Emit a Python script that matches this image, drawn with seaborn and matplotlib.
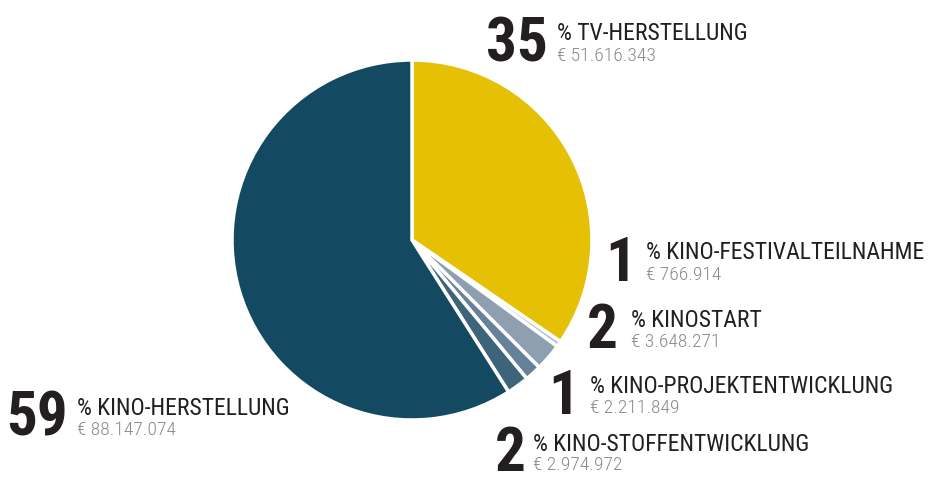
import matplotlib
matplotlib.use("Agg")
import matplotlib.pyplot as plt
import seaborn as sns

categories = ["TV-HERSTELLUNG", "KINO-FESTIVALTEILNAHME", "KINOSTART",
              "KINO-PROJEKTENTWICKLUNG", "KINO-STOFFENTWICKLUNG", "KINO-HERSTELLUNG"]
amounts = [51616343, 766914, 3648271, 2211849, 2974972, 88147074]
percent_labels = ["35", "1", "2", "1", "2", "59"]
amount_labels = ["€ 51.616.343", "€ 766.914", "€ 3.648.271", "€ 2.211.849",
                 "€ 2.974.972", "€ 88.147.074"]
colors = ["#e6c005", "#b9c4cf", "#8d9fb0", "#66819a", "#3e6479", "#134a62"]

sns.set_theme(style="white")
plt.rcParams['font.family'] = ['Roboto Condensed', 'Archivo Narrow', 'Barlow Condensed',
                               'Asap Condensed', 'DejaVu Sans']

W, H = 932, 480
fig = plt.figure(figsize=(W / 100, H / 100), dpi=100)
fig.patch.set_facecolor("white")

cx, cy, r = 412, 240, 180
ax = fig.add_axes([(cx - r) / W, (H - cy - r) / H, 2 * r / W, 2 * r / H])
ax.pie(amounts, colors=colors, startangle=90, counterclock=False,
       wedgeprops=dict(edgecolor="white", linewidth=2.5), radius=1.0)
ax.set_xlim(-1, 1)
ax.set_ylim(-1, 1)
ax.set_aspect("equal")
ax.axis("off")

# label layout: (digit right edge x, digit baseline y, label x, label baseline y)
layout = [
    (548, 62, 557, 40),
    (636, 281, 646, 259),
    (618, 348, 631, 327),
    (579, 414, 590, 393),
    (526, 471, 533, 451),
    (68, 436, 77, 415),
]

def fx(px):
    return px / W

def fy(py):
    return 1 - py / H

for (dx, dy, lx, ly), pct, cat, amt in zip(layout, percent_labels, categories, amount_labels):
    fig.text(fx(dx), fy(dy), pct, ha="right", va="baseline", fontsize=44,
             fontweight="bold", color="#231f20")
    fig.text(fx(lx), fy(ly), "% " + cat, ha="left", va="baseline", fontsize=17,
             color="#231f20")
    fig.text(fx(lx), fy(dy - 1), amt, ha="left", va="baseline", fontsize=14,
             fontweight="light", color="#8a8a8a")

fig.savefig("out.png", dpi=100, facecolor="white")
